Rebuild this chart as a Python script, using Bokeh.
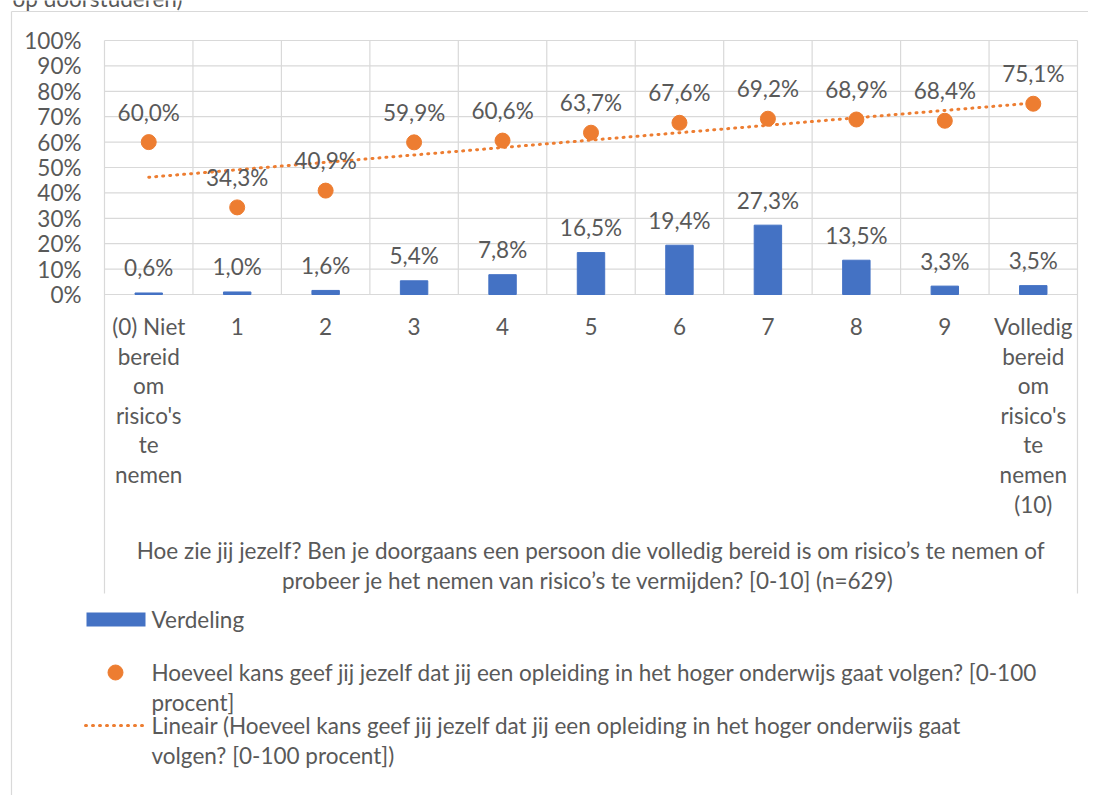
import numpy as np
from bokeh.plotting import figure
from bokeh.models import Range1d
from bokeh.core.properties import value
from bokeh.embed import file_html
from bokeh.resources import INLINE

# ---------------- data ----------------
categories = ["(0) Niet\nbereid\nom\nrisico's\nte\nnemen", "1", "2", "3", "4", "5",
              "6", "7", "8", "9", "Volledig\nbereid\nom\nrisico's\nte\nnemen\n(10)"]
verdeling = [0.6, 1.0, 1.6, 5.4, 7.8, 16.5, 19.4, 27.3, 13.5, 3.3, 3.5]
kans = [60.0, 34.3, 40.9, 59.9, 60.6, 63.7, 67.6, 69.2, 68.9, 68.4, 75.1]
y_ticks = [0, 10, 20, 30, 40, 50, 60, 70, 80, 90, 100]
y_tick_labels = [f"{t}%" for t in y_ticks]
axis_title = ("Hoe zie jij jezelf? Ben je doorgaans een persoon die volledig bereid is om risico’s te nemen of\n"
              "probeer je het nemen van risico’s te vermijden? [0-10]  (n=629)")
legend_bar = "Verdeling"
legend_dot = ("Hoeveel kans geef jij jezelf dat jij een opleiding in het hoger onderwijs gaat volgen? [0-100\n"
              "procent]")
legend_trend = ("Lineair (Hoeveel kans geef jij jezelf dat jij een opleiding in het hoger onderwijs gaat\n"
                "volgen? [0-100 procent])")
clipped_title = "op doorstuderen)"

# ---------------- style ----------------
BLUE = "#4472C4"
ORANGE = "#ED7D31"
GRID = "#D9D9D9"
TXT = "#595959"
FONT = value("Lato")
FS = "22.5px"
LH = 29.6

W, H = 1088, 795
OFF = 0
PL, PR, PT, PB = 104, 1077, 40, 294
n = len(categories)
cw = (PR - PL) / n
ppu = (PB - PT) / 100.0


def dx(px):
    return -0.5 + (px - PL) / cw


def dy(py):
    return (PB - py) / ppu


p = figure(width=W, height=H, output_backend="svg", toolbar_location=None,
           x_range=Range1d(dx(OFF), dx(OFF + W)), y_range=Range1d(dy(OFF + H), dy(OFF)),
           x_axis_location=None, y_axis_location=None, min_border=0)
p.grid.visible = False
p.outline_line_color = None
p.background_fill_color = "white"
p.border_fill_color = "white"

idx = list(range(n))
common = dict(text_font=FONT, text_font_size=FS, text_color=TXT)


def multiline(xs, ys, texts, first_offset, align):
    """Draw multi-line texts line by line with a fixed line spacing."""
    lx, ly, lt, lo = [], [], [], []
    for x, y, t in zip(xs, ys, texts):
        for k, line in enumerate(t.split("\n")):
            lx.append(x)
            ly.append(y)
            lt.append(line)
            lo.append(first_offset + k * LH)
    p.text(x=lx, y=ly, text=lt, y_offset=lo, text_align=align, text_baseline="middle", **common)


# outer chart border
p.segment(x0=[dx(11), dx(11)], y0=[dy(11), dy(11)], x1=[dx(11), dx(1200)], y1=[dy(900), dy(11)],
          line_color=GRID, line_width=1.2)

# horizontal gridlines
p.segment(x0=[-0.5] * len(y_ticks), x1=[n - 0.5] * len(y_ticks), y0=y_ticks, y1=y_ticks,
          line_color=GRID, line_width=1.2)
# vertical category dividers
vx = [k - 0.5 for k in range(n + 1)]
vbot = [dy(593) if k in (0, n) else 0 for k in range(n + 1)]
p.segment(x0=vx, x1=vx, y0=[100] * (n + 1), y1=vbot, line_color=GRID, line_width=1.2)

# bars
p.vbar(x=idx, top=verdeling, width=0.31, bottom=0, fill_color=BLUE, line_color=BLUE)

# trendline (linear fit, like Excel)
slope, icpt = np.polyfit(np.arange(1, n + 1), np.array(kans), 1)
xs = np.array([0, n - 1])
p.line(x=xs, y=slope * (xs + 1) + icpt, line_color=ORANGE, line_width=3, line_dash="1 6",
       line_cap="round")

# dots
p.scatter(x=idx, y=kans, size=15, fill_color=ORANGE, line_color=ORANGE)


def fmt(v):
    return f"{v:.1f}%".replace(".", ",")


p.text(x=idx, y=verdeling, text=[fmt(v) for v in verdeling], text_align="center",
       text_baseline="middle", y_offset=-25, **common)
p.text(x=idx, y=kans, text=[fmt(v) for v in kans], text_align="center",
       text_baseline="middle", y_offset=-30, **common)

# y tick labels
p.text(x=[-0.5] * len(y_ticks), y=y_ticks, text=y_tick_labels, text_align="right",
       text_baseline="middle", x_offset=-23, **common)

# category labels
multiline(idx, [0] * n, categories, 32, "center")

# axis title
multiline([(n - 1) / 2], [dy(550)], [axis_title], 0, "center")

# legend
p.quad(left=[dx(86)], right=[dx(145)], top=[dy(612)], bottom=[dy(626)], fill_color=BLUE, line_color=None)
p.scatter(x=[dx(115)], y=[dy(672)], size=15, fill_color=ORANGE, line_color=ORANGE)
p.line(x=[dx(85), dx(146)], y=[dy(725), dy(725)], line_color=ORANGE, line_width=3, line_dash="1 6",
       line_cap="round")
multiline([dx(151)], [dy(619)], [legend_bar], 0, "left")
multiline([dx(151)], [dy(672)], [legend_dot], 0, "left")
multiline([dx(151)], [dy(725)], [legend_trend], 0, "left")

# clipped title fragment at the very top (only its lower part is visible, as in the reference)
p.text(x=[dx(12)], y=[dy(11)], text=[clipped_title], text_align="left", text_baseline="bottom", **common)

open("out.html", "w").write(file_html(p, INLINE))
